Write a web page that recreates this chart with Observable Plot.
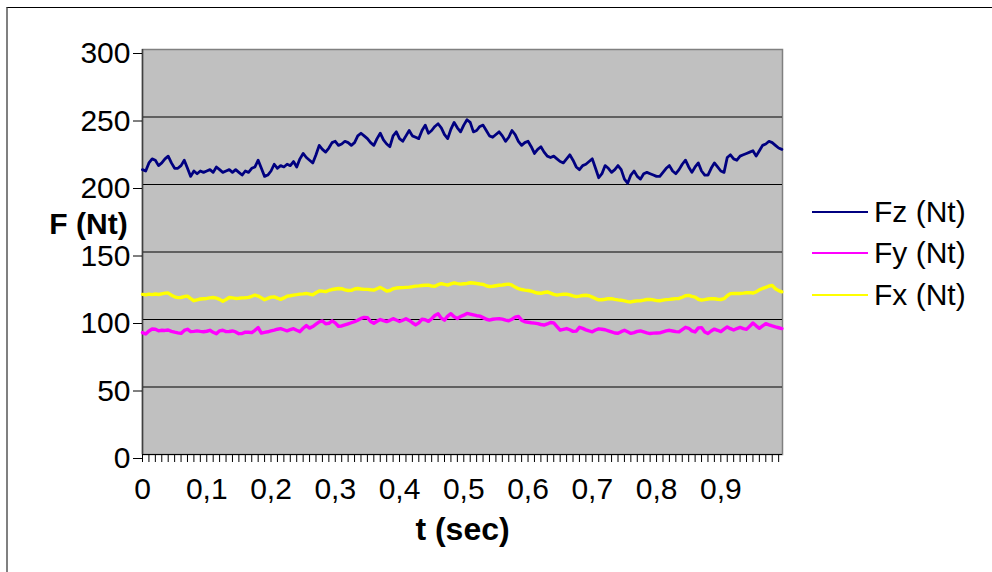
<!DOCTYPE html>
<html>
<head>
<meta charset="utf-8">
<script src="https://cdn.jsdelivr.net/npm/d3@7"></script>
<script src="https://cdn.jsdelivr.net/npm/@observablehq/plot@0.6"></script>
<style>
  body { margin: 0; background: #fff; font-family: "Liberation Sans", Arial, sans-serif; }
  #wrap { position: relative; width: 992px; height: 572px; overflow: hidden; background: #fff; }
  #wrap svg { position: absolute; left: 0; top: 0; }
  #border { position: absolute; left: 6px; top: 7px; width: 1100px; height: 700px;
            border-top: 1px solid #000; border-left: 2px solid #808080; box-sizing: border-box; }
  .lg { position: absolute; left: 812px; height: 34px; display: flex; align-items: center; }
  .sw { width: 56px; height: 2px; }
  .lt { margin-left: 6px; font-size: 30px; line-height: 34px; color: #000; white-space: nowrap; }
</style>
</head>
<body>
<div id="wrap"><div id="border"></div></div>
<script>
// ---- data ----
const seriesNames = ["Fz (Nt)", "Fy (Nt)", "Fx (Nt)"];
const seriesColors = ["#000080", "#ff00ff", "#ffff00"];
const sampleStep = 0.005; // s between samples

const fz = [
  211,210,216,219,218,214,216,219,221,216,
  212,212,214,218,212,206,210,208,210,209,
  210,211,209,213,211,209,210,211,209,211,
  209,207,210,209,212,213,218,212,206,207,
  210,215,212,214,213,215,214,217,213,219,
  223,220,218,216,222,229,226,224,227,231,
  232,229,230,232,231,229,231,236,238,236,
  234,231,229,234,238,233,230,228,236,239,
  234,232,236,240,236,235,234,240,244,238,
  240,243,245,242,237,234,241,246,242,239,
  244,248,246,239,240,243,244,240,236,235,
  237,239,236,232,235,240,237,232,229,231,
  232,228,223,226,228,224,221,220,221,219,
  217,216,219,222,218,213,211,214,215,217,
  219,212,205,208,214,212,209,211,214,211,
  204,201,207,210,206,204,208,209,208,207,
  206,206,209,212,214,210,208,211,215,218,
  213,209,213,216,210,207,207,212,216,213,
  210,209,220,222,219,218,221,222,223,224,
  225,221,225,229,230,232,231,229,227,226
];

const fy = [
  90.3,89.3,91.5,93.0,92.8,91.6,92.0,91.9,92.2,91.2,
  90.6,90.1,89.7,91.9,92.8,91.0,91.2,91.6,91.2,90.9,
  91.3,92.0,90.5,89.4,91.6,92.0,91.0,91.1,91.5,90.8,
  89.5,89.6,90.6,90.6,90.3,92.0,94.0,89.9,90.5,90.9,
  91.5,92.1,92.8,93.2,92.4,91.6,92.5,93.2,92.0,91.0,
  93.5,95.5,93.6,94.8,96.5,98.2,98.9,96.8,97.2,99.0,
  97.5,95.0,95.2,96.0,96.8,97.6,98.4,99.5,100.8,101.6,
  101.4,98.5,97.2,98.7,100.0,99.2,98.4,99.4,100.6,99.6,
  98.5,99.5,100.6,99.3,97.6,96.0,97.5,100.2,99.8,98.6,
  100.6,103.0,104.2,101.0,99.5,102.5,104.3,102.0,100.8,102.2,
  103.2,104.5,104.0,103.4,102.8,102.5,101.4,100.2,99.6,100.2,
  100.5,100.6,100.3,99.6,99.1,100.2,101.8,102.3,99.5,98.3,
  98.0,97.6,97.3,96.9,96.3,95.9,96.7,97.8,97.5,94.8,
  92.1,92.7,93.3,92.4,91.2,91.4,94.2,93.4,92.3,91.5,
  90.9,92.2,93.1,92.8,92.4,91.6,90.8,90.0,89.8,91.0,
  92.0,90.9,89.7,90.3,91.2,91.5,90.8,90.1,89.6,89.9,
  90.0,90.1,90.9,91.6,92.0,91.5,91.0,90.8,92.5,94.2,
  93.5,91.6,90.8,93.8,94.0,90.8,89.6,91.5,92.9,92.0,
  91.0,92.8,94.5,93.2,92.2,93.3,94.1,93.2,92.7,95.0,
  97.4,95.3,93.5,95.2,96.9,96.0,95.2,94.5,93.9,93.3
];

const fx = [
  118.6,118.2,118.8,118.4,118.9,118.5,119.0,119.5,119.6,118.0,
  116.8,116.2,116.3,117.0,117.3,115.5,113.9,114.6,115.2,115.4,
  115.6,116.0,116.3,115.8,114.9,113.5,114.8,116.3,116.0,115.6,
  115.7,116.0,116.1,116.4,117.2,118.1,117.4,116.0,114.6,115.6,
  116.6,116.8,115.8,114.9,116.0,117.3,117.6,118.1,118.4,118.8,
  119.0,119.3,118.8,118.3,119.8,121.1,121.0,120.6,121.5,122.2,
  122.6,123.0,122.8,122.0,121.5,121.6,122.6,123.0,122.6,122.3,
  122.3,122.0,121.8,122.8,123.8,122.5,121.0,121.5,122.8,123.3,
  123.5,123.6,123.8,124.0,124.3,124.7,124.9,125.2,125.4,125.5,
  124.7,124.6,125.8,126.6,126.0,125.5,126.4,127.1,126.6,126.2,
  126.5,126.7,127.2,127.0,126.7,126.3,126.0,125.0,124.4,124.6,
  125.0,125.4,125.6,125.9,126.2,125.4,124.0,122.8,122.2,121.8,
  121.5,121.0,120.2,119.6,119.4,120.0,120.4,119.5,118.6,118.1,
  118.4,118.7,118.7,118.2,117.5,116.9,117.3,117.8,118.0,117.6,
  116.6,115.5,114.6,114.6,115.0,115.5,115.4,114.9,114.5,114.3,
  113.8,113.2,113.0,113.5,113.8,113.9,114.3,114.8,114.9,114.5,
  114.0,113.9,114.3,114.7,114.9,115.2,115.5,115.6,116.5,117.6,
  117.9,117.1,116.6,115.0,114.3,114.7,115.2,115.5,115.4,115.0,
  114.8,115.4,117.6,119.2,119.3,119.3,119.3,119.5,119.8,119.9,
  119.6,120.4,122.0,123.0,123.8,124.8,125.3,122.8,121.4,120.5
];

const yTicks = [0, 50, 100, 150, 200, 250, 300];
const xTickValues = [0, 0.1, 0.2, 0.3, 0.4, 0.5, 0.6, 0.7, 0.8, 0.9];
const xTickLabels = ["0", "0,1", "0,2", "0,3", "0,4", "0,5", "0,6", "0,7", "0,8", "0,9"];
const xTitle = "t (sec)";
const yTitle = "F (Nt)";

// ---- build ----
const times = fz.map((_, i) => +(i * sampleStep).toFixed(3));
const rows = (vals) => vals.map((v, i) => ({t: times[i], v}));
const minorTicks = d3.range(0, 100).map(i => i / 100);

const chart = Plot.plot({
  width: 992,
  height: 572,
  marginLeft: 142,
  marginRight: 210,
  marginTop: 49,
  marginBottom: 118,
  style: {fontFamily: "'Liberation Sans', Arial, sans-serif", fontSize: "30px", color: "#000", background: "transparent", overflow: "visible"},
  x: {domain: [0, 0.996]},
  y: {domain: [0, 300]},
  marks: [
    Plot.frame({fill: "#c0c0c0", stroke: "#808080", strokeWidth: 1.5}),
    Plot.ruleY(yTicks.filter(d => d > 0 && d < 300), {stroke: "#000", strokeWidth: 1}),
    Plot.ruleY([0], {stroke: "#000", strokeWidth: 1}),
    Plot.ruleX([0], {stroke: "#404040", strokeWidth: 1.5}),
    Plot.axisY({ticks: yTicks, tickSize: 9, tickPadding: 3, tickFormat: d => String(d), label: null, dy: 4, stroke: "#000", fontSize: 30}),
    Plot.axisX({ticks: minorTicks, tickSize: 8, tickFormat: () => "", label: null, stroke: "#000"}),
    Plot.axisX({ticks: xTickValues, tickSize: 0, tickPadding: 23, fontSize: 30, tickFormat: d => xTickLabels[xTickValues.findIndex(x => Math.abs(x - d) < 1e-9)], label: null}),
    Plot.line(rows(fz), {x: "t", y: "v", stroke: seriesColors[0], strokeWidth: 2.8}),
    Plot.line(rows(fy), {x: "t", y: "v", stroke: seriesColors[1], strokeWidth: 3.4}),
    Plot.line(rows(fx), {x: "t", y: "v", stroke: seriesColors[2], strokeWidth: 3.4}),
    Plot.text([xTitle], {frameAnchor: "bottom", dy: 85, fontWeight: "bold", fontSize: 32, fill: "#000"}),
    Plot.text([yTitle], {frameAnchor: "left", textAnchor: "middle", dx: -54, dy: -28, fontWeight: "bold", fontSize: 30, fill: "#000"})
  ]
});

const wrap = document.getElementById("wrap");
wrap.appendChild(chart);

// legend
const legendCenters = [212, 253, 295];
seriesNames.forEach((name, i) => {
  const item = document.createElement("div");
  item.className = "lg";
  item.style.top = (legendCenters[i] - 17) + "px";
  const sw = document.createElement("span");
  sw.className = "sw";
  sw.style.background = seriesColors[i];
  const lt = document.createElement("span");
  lt.className = "lt";
  lt.textContent = name;
  item.appendChild(sw);
  item.appendChild(lt);
  wrap.appendChild(item);
});
</script>
</body>
</html>
